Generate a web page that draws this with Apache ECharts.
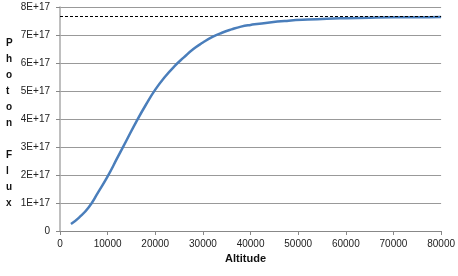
<!DOCTYPE html>
<html>
<head>
<meta charset="utf-8">
<script src="https://cdn.jsdelivr.net/npm/echarts@6/dist/echarts.min.js"></script>
<style>
  html,body{margin:0;padding:0;background:#fff;}
  #chart{width:458px;height:276px;}
</style>
</head>
<body>
<div id="chart"></div>
<script>
// altitude values (x) and photon flux (y, in units of 1E+17)
const altitudes=[2300,4000,6000,8000,10000,12000,14000,16000,18000,20000,22000,24000,26000,28000,30000,32000,34000,36000,38000,40000,44000,48000,52000,56000,60000,65000,70000,75000,80000];
const flux=[0.25,0.48,0.84,1.38,1.95,2.6,3.25,3.9,4.5,5.05,5.5,5.88,6.2,6.5,6.73,6.93,7.08,7.2,7.3,7.36,7.45,7.51,7.55,7.58,7.6,7.62,7.63,7.63,7.64];
const limitFlux=7.68; // dashed reference line
const yLabel='Photon Flux';

const chart=echarts.init(document.getElementById('chart'));

const points=altitudes.map(function(a,i){
    return [a,flux[i]*1e17];
});

chart.setOption({
    animation:false,
    grid:{left:60,right:15,top:7,bottom:45},
    textStyle:{fontFamily:'Liberation Sans'},
    xAxis:{
        type:'value',
        min:0,max:80000,interval:10000,
        name:'Altitude',
        nameLocation:'middle',
        nameGap:18,
        nameTextStyle:{fontWeight:'bold',fontSize:11,color:'#111',padding:[0,0,0,-10]},
        axisLine:{lineStyle:{color:'#888'}},
        axisTick:{show:true,length:4,lineStyle:{color:'#888'}},
        axisLabel:{fontSize:10,color:'#222',margin:8,formatter:function(v){return String(v);}},
        splitLine:{show:false}
    },
    yAxis:{
        type:'value',
        min:0,max:8e17,interval:1e17,
        axisLine:{show:true,lineStyle:{color:'#aaa',width:1.5}},
        axisTick:{show:true,length:4,lineStyle:{color:'#888'}},
        axisLabel:{
            fontSize:10,color:'#222',margin:10,
            formatter:function(v){
                if(v===0) return '0';
                return Math.round(v/1e17)+'E+17';
            }
        },
        splitLine:{lineStyle:{color:'#999'}}
    },
    graphic:[{
        type:'text',
        left:6,
        top:35,
        style:{
            text:yLabel.split('').join('\n'),
            fontSize:10,
            fontWeight:'bold',
            fontFamily:'Liberation Sans',
            lineHeight:16,
            fill:'#111',
            align:'center'
        }
    }],
    series:[{
        type:'line',
        data:points,
        smooth:0.5,
        showSymbol:false,
        lineStyle:{color:'#4a7ebb',width:2.5},
        markLine:{
            silent:true,
            symbol:'none',
            label:{show:false},
            lineStyle:{color:'#000',type:[3,2],width:1},
            data:[{yAxis:limitFlux*1e17}]
        }
    }]
});
</script>
</body>
</html>
